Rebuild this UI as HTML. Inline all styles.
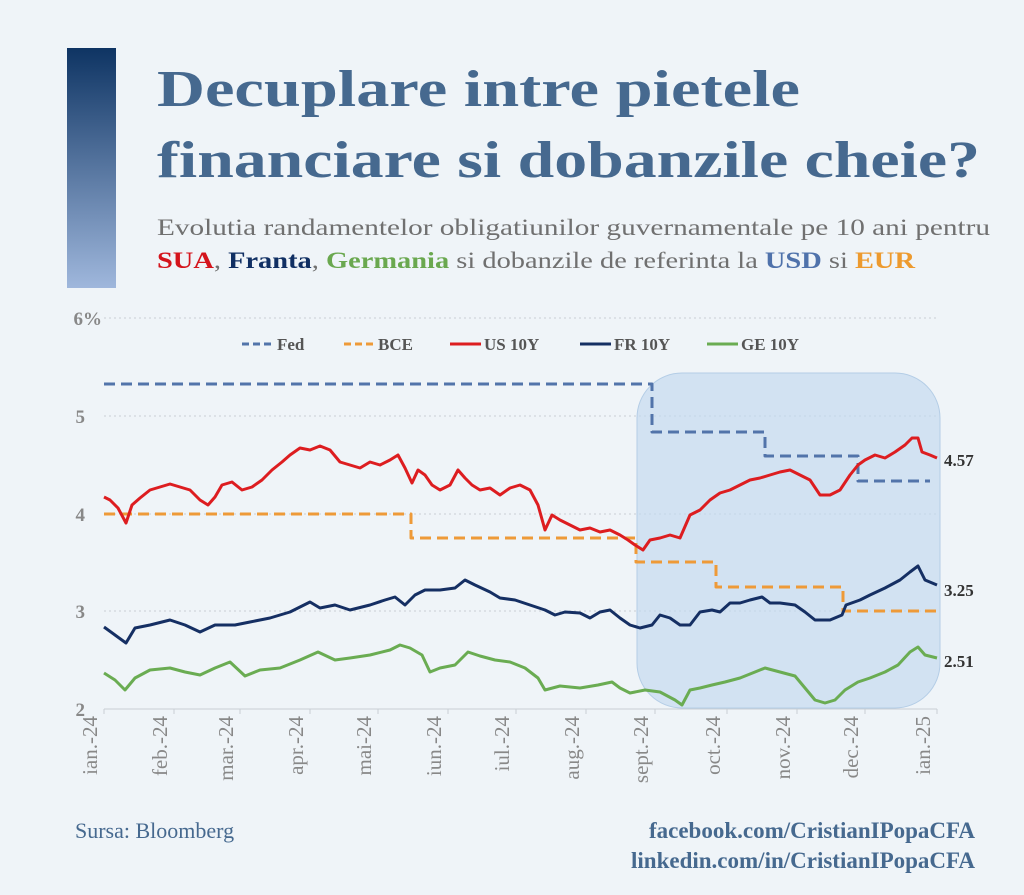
<!DOCTYPE html>
<html><head><meta charset="utf-8"><style>
html,body{margin:0;padding:0;background:#eff4f8;}
svg{display:block;font-family:"Liberation Serif",serif;}
</style></head><body>
<svg width="1024" height="895" viewBox="0 0 1024 895" xmlns="http://www.w3.org/2000/svg">
<defs>
<linearGradient id="bar" x1="0" y1="0" x2="0" y2="1">
<stop offset="0" stop-color="#0e3463"/><stop offset="1" stop-color="#9fb7dc"/>
</linearGradient>
</defs>
<rect width="1024" height="895" fill="#eff4f8"/>
<rect x="67" y="48" width="49" height="240" fill="url(#bar)"/>
<g fill="#46698f" font-weight="bold" font-size="52">
<text x="157" y="106" textLength="643" lengthAdjust="spacingAndGlyphs">Decuplare intre pietele</text>
<text x="157" y="177" textLength="823" lengthAdjust="spacingAndGlyphs">financiare si dobanzile cheie?</text>
</g>
<g font-size="23" fill="#707070">
<text x="157" y="235" textLength="833" lengthAdjust="spacingAndGlyphs">Evolutia randamentelor obligatiunilor guvernamentale pe 10 ani pentru</text>
<text x="157" y="268" textLength="758" lengthAdjust="spacingAndGlyphs"><tspan fill="#d4141c" font-weight="bold">SUA</tspan>, <tspan fill="#102f63" font-weight="bold">Franta</tspan>, <tspan fill="#6aa84f" font-weight="bold">Germania</tspan> si dobanzile de referinta la <tspan fill="#4f72ab" font-weight="bold">USD</tspan> si <tspan fill="#ed9a2e" font-weight="bold">EUR</tspan></text>
</g>
<g stroke="#c9ced4" stroke-dasharray="2,3" stroke-width="1">
<line x1="104" y1="318" x2="937" y2="318"/><line x1="104" y1="416" x2="937" y2="416"/>
<line x1="104" y1="514" x2="937" y2="514"/><line x1="104" y1="611" x2="937" y2="611"/>
</g>
<line x1="104" y1="709" x2="937" y2="709" stroke="#c9ced4"/>
<g fill="#888" font-size="19" font-weight="bold" text-anchor="end">
<text x="102" y="325">6%</text><text x="85" y="423">5</text><text x="85" y="521">4</text><text x="85" y="618">3</text><text x="85" y="716">2</text>
</g>
<rect x="637" y="373" width="303" height="335" rx="45" fill="#c2d8ee" fill-opacity="0.65" stroke="#b4cde6"/>
<g font-size="17" font-weight="bold" fill="#555">
<line x1="242" y1="344" x2="273" y2="344" stroke="#5274aa" stroke-width="3" stroke-dasharray="7,4"/><text x="277" y="350">Fed</text>
<line x1="344" y1="344" x2="375" y2="344" stroke="#ee9a38" stroke-width="3" stroke-dasharray="7,4"/><text x="378" y="350">BCE</text>
<line x1="450" y1="344" x2="481" y2="344" stroke="#dd1d20" stroke-width="3"/><text x="484" y="350">US 10Y</text>
<line x1="580" y1="344" x2="611" y2="344" stroke="#152f63" stroke-width="3"/><text x="614" y="350">FR 10Y</text>
<line x1="707" y1="344" x2="738" y2="344" stroke="#6aac52" stroke-width="3"/><text x="741" y="350">GE 10Y</text>
</g>
<g fill="none" stroke-width="3" stroke-linejoin="round">
<polyline stroke="#5274aa" stroke-dasharray="11,6" points="104,384 652,384 652,432 765,432 765,456 858,456 858,481 930,481"/>
<polyline stroke="#ee9a38" stroke-dasharray="11,6" points="104,514 411,514 411,538 636,538 636,562 716,562 716,587 843,587 843,611 937,611"/>
<polyline stroke="#dd1d20" points="104,497 110,500 118,508 126,523 132,505 140,498 150,490 160,487 170,484 180,487 190,490 200,500 208,505 215,497 222,485 232,482 242,490 252,487 262,480 272,470 282,462 290,455 300,448 310,450 320,446 330,450 340,462 350,465 360,468 370,462 380,465 390,460 398,455 405,468 412,483 418,470 425,475 432,485 440,490 450,485 458,470 465,478 472,485 480,490 490,488 500,495 510,488 520,485 530,490 538,505 545,530 552,515 560,520 570,525 580,530 590,528 600,532 610,530 620,535 628,540 635,545 643,550 650,540 660,538 670,535 680,538 690,515 700,510 710,500 720,493 730,490 740,485 750,480 760,478 770,475 780,472 790,470 800,475 810,480 820,495 830,495 840,490 850,475 858,465 865,460 875,455 885,458 895,452 905,445 912,438 918,438 922,452 930,455 937,458"/>
<polyline stroke="#152f63" points="104,627 115,635 126,643 135,628 150,625 170,620 185,625 200,632 215,625 235,625 250,622 270,618 290,612 310,602 320,608 335,605 350,610 370,605 385,600 395,597 405,605 415,595 425,590 440,590 455,588 465,580 475,585 490,592 500,598 515,600 530,605 545,610 555,615 565,612 580,613 590,618 600,612 610,610 620,618 630,625 640,628 652,625 660,615 670,618 680,625 690,625 700,612 712,610 720,612 730,603 740,603 750,600 762,597 770,603 780,603 795,605 805,612 815,620 830,620 842,615 846,605 860,600 870,595 885,588 900,580 910,572 918,566 925,580 937,585"/>
<polyline stroke="#6aac52" points="104,673 115,680 125,690 135,678 150,670 170,668 185,672 200,675 215,668 230,662 245,676 260,670 280,668 300,660 318,652 335,660 350,658 370,655 390,650 400,645 410,648 422,655 430,672 440,668 455,665 468,652 480,656 495,660 510,662 525,668 538,678 545,690 560,686 580,688 598,685 612,682 620,688 630,693 645,690 660,692 675,700 682,705 690,690 700,688 712,685 725,682 740,678 755,672 765,668 780,672 795,676 805,688 815,700 825,703 835,700 845,690 858,682 870,678 885,672 898,665 910,652 918,647 925,655 937,658"/>
</g>
<g font-size="17" font-weight="bold" fill="#333">
<text x="944" y="466">4.57</text><text x="944" y="596">3.25</text><text x="944" y="667">2.51</text>
</g>
<g stroke="#c9ced4">
<line x1="104" y1="709" x2="104" y2="714"/><line x1="174" y1="709" x2="174" y2="714"/><line x1="240" y1="709" x2="240" y2="714"/><line x1="310" y1="709" x2="310" y2="714"/><line x1="378" y1="709" x2="378" y2="714"/><line x1="448" y1="709" x2="448" y2="714"/><line x1="516" y1="709" x2="516" y2="714"/><line x1="586" y1="709" x2="586" y2="714"/><line x1="655" y1="709" x2="655" y2="714"/><line x1="727" y1="709" x2="727" y2="714"/><line x1="797" y1="709" x2="797" y2="714"/><line x1="865" y1="709" x2="865" y2="714"/><line x1="937" y1="709" x2="937" y2="714"/>
</g>
<g font-size="21" fill="#888" text-anchor="end">
<text transform="translate(97,716) rotate(-90)">ian.-24</text>
<text transform="translate(167,716) rotate(-90)">feb.-24</text>
<text transform="translate(233,716) rotate(-90)">mar.-24</text>
<text transform="translate(303,716) rotate(-90)">apr.-24</text>
<text transform="translate(371,716) rotate(-90)">mai-24</text>
<text transform="translate(441,716) rotate(-90)">iun.-24</text>
<text transform="translate(509,716) rotate(-90)">iul.-24</text>
<text transform="translate(579,716) rotate(-90)">aug.-24</text>
<text transform="translate(648,716) rotate(-90)">sept.-24</text>
<text transform="translate(720,716) rotate(-90)">oct.-24</text>
<text transform="translate(790,716) rotate(-90)">nov.-24</text>
<text transform="translate(858,716) rotate(-90)">dec.-24</text>
<text transform="translate(930,716) rotate(-90)">ian.-25</text>
</g>
<text x="75" y="838" font-size="22" fill="#46698f">Sursa: Bloomberg</text>
<g font-size="23" font-weight="bold" fill="#46698f" text-anchor="end">
<text x="975" y="838">facebook.com/CristianIPopaCFA</text>
<text x="975" y="868">linkedin.com/in/CristianIPopaCFA</text>
</g>
</svg>
</body></html>
